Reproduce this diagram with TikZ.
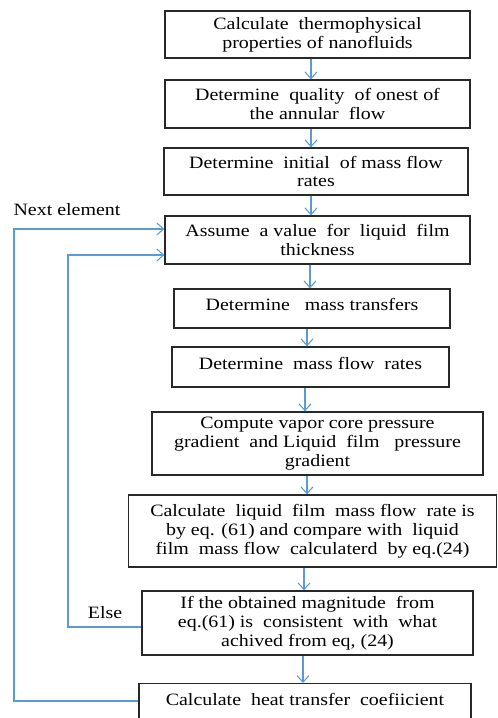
\documentclass[tikz,border=0pt]{standalone}
\usepackage{fontspec}
\setmainfont{Liberation Serif}
\newfontfamily\flowfont[FakeStretch=1.15]{Liberation Serif}
\usetikzlibrary{arrows.meta}
\definecolor{flowblue}{RGB}{91,155,213}
\definecolor{boxline}{RGB}{40,40,40}
\begin{document}
\begin{tikzpicture}[x=0.75pt,y=-0.75pt,
  box/.style={draw=boxline, line width=1pt, align=center, inner sep=2pt,
    font=\flowfont\fontsize{13}{14.2}\selectfont},
  arr/.style={draw=flowblue, line width=0.8pt, -{Straight Barb[length=5pt,width=9pt]}},
  lbl/.style={font=\flowfont\fontsize{13}{14.2}\selectfont, inner sep=0pt}]
\useasboundingbox (0,0) rectangle (497,718);
\clip (0,0) rectangle (497,718);
\node[box, minimum width=305*0.75pt, minimum height=47*0.75pt] (b1) at (317.5,34.5)
  {Calculate \ thermophysical\\ properties of nanofluids};
\node[box, minimum width=305*0.75pt, minimum height=48*0.75pt] (b2) at (317.5,104)
  {Determine \ quality \ of onest of\\ the annular \ flow};
\node[box, minimum width=304*0.75pt, minimum height=47*0.75pt] (b3) at (316,171.5)
  {Determine \ initial \ of mass flow\\ rates};
\node[box, minimum width=305*0.75pt, minimum height=48*0.75pt] (b4) at (317.5,240)
  {Assume \ a value \ for \ liquid \ film\\ thickness};
\node[box, minimum width=276*0.75pt, minimum height=39*0.75pt, text height=14pt, text depth=11pt] (b5) at (312,308.5)
  {Determine \ \ mass transfers};
\node[box, minimum width=277*0.75pt, minimum height=40*0.75pt, text height=14pt, text depth=11pt] (b6) at (310.5,367)
  {Determine \ mass flow \ rates};
\node[box, minimum width=331*0.75pt, minimum height=63*0.75pt] (b7) at (317.5,443.5)
  {Compute vapor core pressure\\ gradient \ and Liquid \ film \ \ pressure\\ gradient};
\node[box, minimum width=368*0.75pt, minimum height=72*0.75pt] (b8) at (312.5,531)
  {Calculate \ liquid \ film \ mass flow \ rate is\\ by eq. (61) and compare with \ liquid\\ film \ mass flow \ calculaterd \ by eq.(24)};
\node[box, minimum width=331*0.75pt, minimum height=64*0.75pt] (b9) at (307.5,623)
  {If the obtained magnitude \ from\\ eq.(61) is \ consistent \ with \ what\\ achived from eq, (24)};
\node[box, anchor=north, minimum width=332*0.75pt, text height=14.5pt, text depth=30pt] (b10) at (305,683)
  {Calculate \ heat transfer \ coefiicient};
\node[lbl] (next) at (67,210) {Next element};
\node[lbl] (else) at (105,613) {Else};
% main flow arrows
\draw[arr] (311,0 |- b1.south) -- (311,0 |- b2.north);
\draw[arr] (311,0 |- b2.south) -- (311,0 |- b3.north);
\draw[arr] (311,0 |- b3.south) -- (311,0 |- b4.north);
\draw[arr] (310,0 |- b4.south) -- (310,0 |- b5.north);
\draw[arr] (307,0 |- b5.south) -- (307,0 |- b6.north);
\draw[arr] (305,0 |- b6.south) -- (305,0 |- b7.north);
\draw[arr] (307,0 |- b7.south) -- (307,0 |- b8.north);
\draw[arr] (304,0 |- b8.south) -- (304,0 |- b9.north);
\draw[arr] (303,0 |- b9.south) -- (303,0 |- b10.north);
% loops
\draw[arr] (b9.west |- 0,627) -- (68,627) -- (68,255) -- (b4.west |- 0,255);
\draw[arr] (b10.west |- 0,701) -- (14,701) -- (14,229) -- (b4.west |- 0,229);
\end{tikzpicture}
\end{document}
